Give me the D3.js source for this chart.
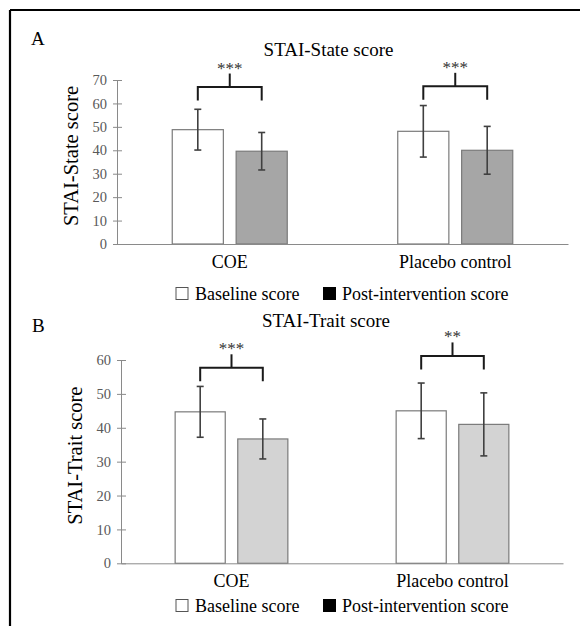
<!DOCTYPE html>
<html>
<head>
<meta charset="utf-8">
<script src="https://cdn.jsdelivr.net/npm/d3@7"></script>
<style>
  html, body { margin: 0; padding: 0; background: #fff; }
  svg { display: block; font-family: "Liberation Serif", "Times New Roman", serif; }
</style>
</head>
<body>
<div id="chart"></div>
<script>
// 数据：两组 × 两个时间点，均值 ± SD
const categories = ['COE', 'Placebo control'];
const seriesNames = ['Baseline score', 'Post-intervention score'];

const stateBaseline = [48.8, 48.1];
const stateBaselineSD = [8.7, 11.0];
const statePost = [39.6, 40.0];
const statePostSD = [8.0, 10.2];
const stateTicks = [0, 10, 20, 30, 40, 50, 60, 70];
const stateSig = ['***', '***'];
const stateSigLevel = [67.0, 67.3];

const traitBaseline = [44.7, 45.0];
const traitBaselineSD = [7.5, 8.2];
const traitPost = [36.7, 41.0];
const traitPostSD = [5.9, 9.3];
const traitTicks = [0, 10, 20, 30, 40, 50, 60];
const traitSig = ['***', '**'];
const traitSigLevel = [57.7, 61.2];

const width = 580;
const height = 626;

const svg = d3.select('#chart')
    .append('svg')
    .attr('width', width)
    .attr('height', height);

// 外框（只有上边和左边）
svg.append('line').attr('x1', 10).attr('x2', width).attr('y1', 10).attr('y2', 10)
    .attr('stroke', '#000').attr('stroke-width', 2.2);
svg.append('line').attr('x1', 10).attr('x2', 10).attr('y1', 10).attr('y2', height)
    .attr('stroke', '#000').attr('stroke-width', 2.2);

function drawPanel(cfg) {
    const g = svg.append('g');

    const x0 = d3.scaleBand()
        .domain(categories)
        .range([cfg.left, cfg.right])
        .paddingInner(0.49)
        .paddingOuter(0.245);

    const x1 = d3.scaleBand()
        .domain(seriesNames)
        .range([0, x0.bandwidth()])
        .paddingInner(0.2);

    const y = d3.scaleLinear()
        .domain([0, cfg.ticks[cfg.ticks.length - 1]])
        .range([cfg.bottom, cfg.top]);

    const rows = categories.map((c, i) => ({
        cat: c,
        values: [
            { name: seriesNames[0], mean: cfg.baseline[i], sd: cfg.baselineSD[i] },
            { name: seriesNames[1], mean: cfg.post[i], sd: cfg.postSD[i] }
        ]
    }));

    // y 轴
    const yAxis = g.append('g')
        .attr('transform', `translate(${cfg.left},0)`)
        .call(d3.axisLeft(y).tickValues(cfg.ticks).tickSize(4).tickSizeOuter(0).tickPadding(6));
    yAxis.select('.domain').attr('stroke', '#8a8a8a');
    yAxis.selectAll('.tick line').attr('stroke', '#8a8a8a').attr('x1', 5);
    yAxis.selectAll('.tick text')
        .attr('fill', '#595959')
        .style('font-size', '14.5px')
        .style('font-family', '"Liberation Serif", serif');

    // 柱子
    const groups = g.selectAll('.grp')
        .data(rows)
        .join('g')
        .attr('class', 'grp')
        .attr('transform', d => `translate(${x0(d.cat)},0)`);

    groups.selectAll('rect')
        .data(d => d.values)
        .join('rect')
        .attr('x', d => x1(d.name))
        .attr('width', x1.bandwidth())
        .attr('y', d => y(d.mean))
        .attr('height', d => y(0) - y(d.mean))
        .attr('fill', d => d.name === seriesNames[0] ? '#ffffff' : cfg.postFill)
        .attr('stroke', '#7a7a7a')
        .attr('stroke-width', 1.2);

    // 误差线
    const err = groups.selectAll('.err')
        .data(d => d.values)
        .join('g')
        .attr('class', 'err')
        .attr('stroke', '#404040')
        .attr('stroke-width', 1.6);
    err.append('line')
        .attr('x1', d => x1(d.name) + x1.bandwidth() / 2)
        .attr('x2', d => x1(d.name) + x1.bandwidth() / 2)
        .attr('y1', d => y(d.mean + d.sd))
        .attr('y2', d => y(d.mean - d.sd));
    err.append('line')
        .attr('x1', d => x1(d.name) + x1.bandwidth() / 2 - 3.5)
        .attr('x2', d => x1(d.name) + x1.bandwidth() / 2 + 3.5)
        .attr('y1', d => y(d.mean + d.sd))
        .attr('y2', d => y(d.mean + d.sd));
    err.append('line')
        .attr('x1', d => x1(d.name) + x1.bandwidth() / 2 - 3.5)
        .attr('x2', d => x1(d.name) + x1.bandwidth() / 2 + 3.5)
        .attr('y1', d => y(d.mean - d.sd))
        .attr('y2', d => y(d.mean - d.sd));

    // x 轴
    const xAxis = g.append('g')
        .attr('transform', `translate(0,${cfg.bottom})`)
        .call(d3.axisBottom(x0).tickSize(0).tickSizeOuter(0).tickPadding(11));
    xAxis.select('.domain').attr('stroke', '#8a8a8a');
    xAxis.selectAll('.tick text')
        .attr('fill', '#000')
        .style('font-size', '18px')
        .style('font-family', '"Liberation Serif", serif');

    // 显著性括号
    categories.forEach((c, i) => {
        const xa = x0(c) + x1(seriesNames[0]) + x1.bandwidth() / 2;
        const xb = x0(c) + x1(seriesNames[1]) + x1.bandwidth() / 2;
        const xm = (xa + xb) / 2;
        const yl = y(cfg.sigLevel[i]);
        g.append('path')
            .attr('d', `M${xa},${yl + 13.5}V${yl}H${xb}V${yl + 13.5}`)
            .attr('fill', 'none')
            .attr('stroke', '#1a1a1a')
            .attr('stroke-width', 2);
        g.append('line')
            .attr('x1', xm).attr('x2', xm)
            .attr('y1', yl).attr('y2', yl - 13.5)
            .attr('stroke', '#1a1a1a')
            .attr('stroke-width', 2);
        g.append('text')
            .attr('x', xm)
            .attr('y', yl - 13.5)
            .attr('text-anchor', 'middle')
            .attr('fill', '#333')
            .style('font-size', '17px')
            .text(cfg.sig[i]);
    });

    // 标题、面板字母、y 轴标题
    g.append('text')
        .attr('x', cfg.titleX).attr('y', cfg.titleY)
        .attr('text-anchor', 'middle')
        .style('font-size', '19px')
        .text(cfg.title);
    g.append('text')
        .attr('x', cfg.letterX).attr('y', cfg.letterY)
        .style('font-size', '19px')
        .text(cfg.letter);
    g.append('text')
        .attr('transform', `translate(${cfg.left - 39},${(cfg.top + cfg.bottom) / 2 - 6}) rotate(-90)`)
        .attr('text-anchor', 'middle')
        .style('font-size', '20.5px')
        .text(cfg.yTitle);

    // 图例
    const leg = g.append('g').attr('transform', `translate(0,${cfg.legendY})`);
    const legX = [176, 323.5];
    const legTextX = [195, 342];
    seriesNames.forEach((s, i) => {
        leg.append('rect')
            .attr('x', legX[i]).attr('y', -12)
            .attr('width', 12).attr('height', 12)
            .attr('fill', i === 0 ? '#fff' : '#000')
            .attr('stroke', i === 0 ? '#555' : '#000')
            .attr('stroke-width', 1);
        leg.append('text')
            .attr('x', legTextX[i]).attr('y', 0)
            .style('font-size', '18px')
            .text(s);
    });
}

drawPanel({
    letter: 'A', letterX: 31, letterY: 45,
    title: 'STAI-State score', titleX: 328.5, titleY: 56,
    yTitle: 'STAI-State score',
    left: 117, right: 568, top: 80, bottom: 244,
    ticks: stateTicks,
    baseline: stateBaseline, baselineSD: stateBaselineSD,
    post: statePost, postSD: statePostSD,
    sig: stateSig, sigLevel: stateSigLevel,
    postFill: '#a6a6a6',
    legendY: 299.5
});

drawPanel({
    letter: 'B', letterX: 32, letterY: 331.5,
    title: 'STAI-Trait score', titleX: 326, titleY: 327,
    yTitle: 'STAI-Trait score',
    left: 121, right: 563, top: 360, bottom: 563.3,
    ticks: traitTicks,
    baseline: traitBaseline, baselineSD: traitBaselineSD,
    post: traitPost, postSD: traitPostSD,
    sig: traitSig, sigLevel: traitSigLevel,
    postFill: '#d3d3d3',
    legendY: 611.5
});
</script>
</body>
</html>
